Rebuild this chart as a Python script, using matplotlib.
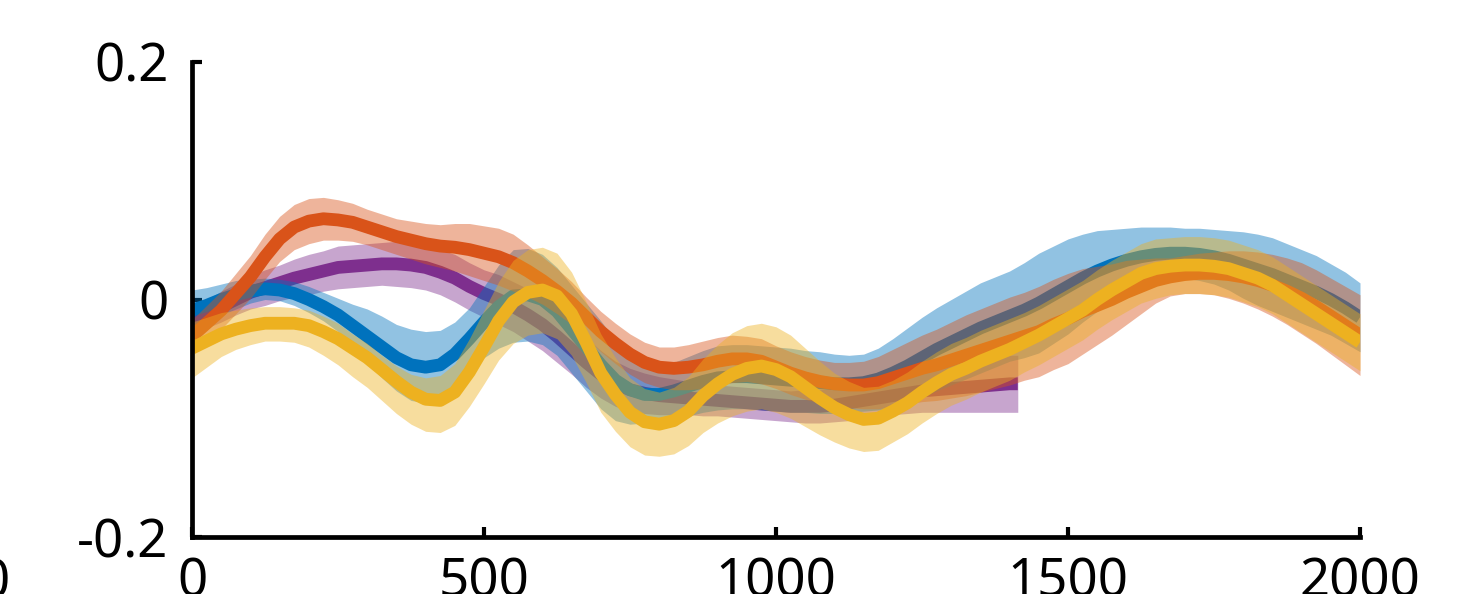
import matplotlib
matplotlib.use("Agg")
import matplotlib.pyplot as plt
import numpy as np

plt.rcParams['font.family'] = ['Noto Sans', 'DejaVu Sans']

t = list(range(0, 2001, 25))
t_purple = list(range(0, 1401, 25)) + [1414]

blue_mean = [-0.009, -0.005, 0.000, 0.004, 0.007, 0.009, 0.008, 0.005, 0.000, -0.006,
             -0.013, -0.022, -0.031, -0.040, -0.049, -0.055, -0.057, -0.055, -0.046, -0.033,
             -0.019, -0.006, 0.003, 0.004, 0.000, -0.010, -0.025, -0.040, -0.055, -0.068,
             -0.076, -0.080, -0.080, -0.077, -0.073, -0.069, -0.066, -0.065, -0.065, -0.066,
             -0.067, -0.068, -0.069, -0.070, -0.071, -0.071, -0.070, -0.067, -0.062, -0.056,
             -0.049, -0.042, -0.036, -0.030, -0.024, -0.019, -0.014, -0.009, -0.003, 0.004,
             0.011, 0.018, 0.024, 0.029, 0.033, 0.036, 0.038, 0.039, 0.039, 0.038,
             0.036, 0.033, 0.029, 0.025, 0.021, 0.016, 0.011, 0.006, 0.000, -0.007, -0.015]
blue_hw = [0.017, 0.015, 0.013, 0.012, 0.010, 0.009, 0.009, 0.010, 0.011, 0.012,
           0.014, 0.018, 0.023, 0.026, 0.028, 0.030, 0.030, 0.029, 0.027, 0.026,
           0.030, 0.035, 0.039, 0.039, 0.038, 0.037, 0.037, 0.037, 0.037, 0.034,
           0.029, 0.024, 0.022, 0.024, 0.025, 0.026, 0.027, 0.027, 0.027, 0.027,
           0.027, 0.027, 0.026, 0.026, 0.025, 0.024, 0.024, 0.026, 0.029, 0.032,
           0.034, 0.035, 0.036, 0.037, 0.038, 0.038, 0.038, 0.040, 0.042, 0.041,
           0.040, 0.037, 0.034, 0.030, 0.027, 0.025, 0.023, 0.022, 0.021, 0.022,
           0.023, 0.025, 0.028, 0.030, 0.031, 0.031, 0.031, 0.031, 0.030, 0.030, 0.029]

red_mean = [-0.031, -0.020, -0.009, 0.005, 0.019, 0.036, 0.051, 0.061, 0.066, 0.068,
            0.067, 0.065, 0.061, 0.057, 0.053, 0.050, 0.047, 0.045, 0.044, 0.042,
            0.039, 0.036, 0.031, 0.024, 0.016, 0.007, -0.003, -0.015, -0.027, -0.037,
            -0.046, -0.053, -0.057, -0.058, -0.057, -0.055, -0.052, -0.050, -0.050, -0.052,
            -0.057, -0.062, -0.066, -0.069, -0.071, -0.072, -0.072, -0.070, -0.066, -0.062,
            -0.058, -0.055, -0.051, -0.047, -0.043, -0.039, -0.035, -0.031, -0.027, -0.021,
            -0.016, -0.010, -0.005, 0.000, 0.006, 0.011, 0.016, 0.019, 0.021, 0.022,
            0.022, 0.021, 0.019, 0.016, 0.012, 0.007, 0.001, -0.006, -0.014, -0.022, -0.030]
red_hw = [0.014, 0.015, 0.016, 0.017, 0.018, 0.019, 0.019, 0.019, 0.019, 0.018,
          0.017, 0.016, 0.015, 0.015, 0.015, 0.016, 0.017, 0.018, 0.020, 0.022,
          0.023, 0.024, 0.024, 0.022, 0.020, 0.019, 0.018, 0.017, 0.017, 0.017,
          0.017, 0.017, 0.017, 0.018, 0.019, 0.020, 0.020, 0.020, 0.019, 0.019,
          0.018, 0.018, 0.018, 0.018, 0.018, 0.019, 0.020, 0.022, 0.024, 0.026,
          0.028, 0.030, 0.032, 0.034, 0.035, 0.036, 0.037, 0.037, 0.038, 0.038,
          0.038, 0.036, 0.033, 0.030, 0.027, 0.023, 0.019, 0.016, 0.016, 0.017,
          0.018, 0.020, 0.022, 0.024, 0.026, 0.028, 0.030, 0.031, 0.032, 0.033, 0.034]

purple_mean = [-0.017, -0.012, -0.006, 0.000, 0.006, 0.010, 0.014, 0.018, 0.021, 0.024,
               0.027, 0.028, 0.029, 0.030, 0.030, 0.029, 0.027, 0.023, 0.018, 0.011,
               0.005, 0.000, -0.006, -0.013, -0.021, -0.031, -0.042, -0.053, -0.063, -0.071,
               -0.076, -0.079, -0.081, -0.082, -0.083, -0.084, -0.085, -0.086, -0.087, -0.088,
               -0.089, -0.090, -0.090, -0.090, -0.089, -0.087, -0.085, -0.083, -0.081, -0.079,
               -0.077, -0.076, -0.075, -0.074, -0.073, -0.072, -0.071, -0.071]
purple_hw = [0.012, 0.012, 0.013, 0.013, 0.014, 0.015, 0.015, 0.016, 0.017, 0.017,
             0.018, 0.018, 0.018, 0.018, 0.019, 0.019, 0.019, 0.019, 0.020, 0.020,
             0.020, 0.021, 0.021, 0.022, 0.022, 0.022, 0.021, 0.021, 0.020, 0.019,
             0.018, 0.017, 0.016, 0.015, 0.014, 0.014, 0.013, 0.013, 0.013, 0.013,
             0.013, 0.013, 0.014, 0.014, 0.014, 0.015, 0.015, 0.016, 0.016, 0.017,
             0.018, 0.019, 0.020, 0.021, 0.022, 0.023, 0.024, 0.024]

yellow_mean = [-0.041, -0.035, -0.029, -0.025, -0.022, -0.020, -0.020, -0.020, -0.022, -0.027,
               -0.033, -0.041, -0.049, -0.059, -0.069, -0.078, -0.084, -0.085, -0.078, -0.061,
               -0.040, -0.018, -0.002, 0.006, 0.008, 0.003, -0.012, -0.036, -0.062, -0.080,
               -0.095, -0.103, -0.105, -0.102, -0.094, -0.081, -0.071, -0.063, -0.058, -0.056,
               -0.059, -0.065, -0.074, -0.083, -0.091, -0.097, -0.101, -0.100, -0.094, -0.087,
               -0.078, -0.070, -0.063, -0.058, -0.052, -0.047, -0.042, -0.036, -0.030, -0.023,
               -0.016, -0.009, 0.000, 0.008, 0.015, 0.022, 0.026, 0.028, 0.029, 0.029,
               0.028, 0.026, 0.022, 0.018, 0.012, 0.004, -0.004, -0.012, -0.020, -0.028, -0.036]
# the yellow band is not symmetric: separate upper and lower widths
yellow_up = [0.022, 0.020, 0.018, 0.016, 0.015, 0.014, 0.014, 0.013, 0.013, 0.013,
             0.013, 0.012, 0.012, 0.012, 0.013, 0.015, 0.018, 0.021, 0.024, 0.028,
             0.031, 0.033, 0.035, 0.036, 0.036, 0.036, 0.035, 0.034, 0.033, 0.031,
             0.029, 0.028, 0.027, 0.028, 0.029, 0.031, 0.033, 0.035, 0.036, 0.036,
             0.036, 0.035, 0.033, 0.031, 0.029, 0.028, 0.027, 0.027, 0.026, 0.026,
             0.026, 0.026, 0.026, 0.026, 0.026, 0.026, 0.026, 0.025, 0.025, 0.025,
             0.025, 0.025, 0.025, 0.025, 0.025, 0.025, 0.025, 0.024, 0.024, 0.024,
             0.024, 0.024, 0.024, 0.024, 0.024, 0.024, 0.024, 0.024, 0.024, 0.024, 0.024]
yellow_down = [0.025, 0.022, 0.019, 0.017, 0.016, 0.015, 0.015, 0.016, 0.018, 0.020,
               0.022, 0.024, 0.025, 0.026, 0.027, 0.027, 0.027, 0.027, 0.028, 0.029,
               0.031, 0.033, 0.035, 0.036, 0.036, 0.036, 0.035, 0.034, 0.033, 0.031,
               0.029, 0.028, 0.027, 0.028, 0.029, 0.031, 0.033, 0.035, 0.036, 0.036,
               0.036, 0.035, 0.033, 0.031, 0.029, 0.028, 0.027, 0.027, 0.026, 0.026,
               0.026, 0.026, 0.026, 0.026, 0.026, 0.026, 0.026, 0.025, 0.025, 0.025,
               0.025, 0.025, 0.025, 0.025, 0.025, 0.025, 0.025, 0.024, 0.024, 0.024,
               0.024, 0.024, 0.024, 0.024, 0.024, 0.024, 0.024, 0.024, 0.024, 0.024, 0.024]

x_ticks = [0, 500, 1000, 1500, 2000]
y_ticks = [-0.2, 0, 0.2]
y_ticklabels = ['-0.2', '0', '0.2']

series = [
    (t_purple, purple_mean, purple_hw, purple_hw, '#7E2F8E'),
    (t, blue_mean, blue_hw, blue_hw, '#0072BD'),
    (t, red_mean, red_hw, red_hw, '#D95319'),
    (t, yellow_mean, yellow_up, yellow_down, '#EDB120'),
]

W, H = 1481, 594
fig = plt.figure(figsize=(W / 100, H / 100), dpi=100)
ax = fig.add_axes([192 / W, (H - 537) / H, (1360 - 192) / W, (537 - 62) / H])

for i, (tt, m, up, dn, c) in enumerate(series):
    m = np.array(m); up = np.array(up); dn = np.array(dn)
    ax.fill_between(tt, m - dn, m + up, color=c, alpha=0.43, linewidth=0, zorder=2 + 2 * i)
    ax.plot(tt, m, color=c, linewidth=9.2, solid_capstyle='butt',
            solid_joinstyle='round', zorder=3 + 2 * i)

ax.set_xlim(0, 2000)
ax.set_ylim(-0.2, 0.2)
ax.set_xticks(x_ticks)
ax.set_xticklabels([str(v) for v in x_ticks])
ax.set_yticks(y_ticks)
ax.set_yticklabels(y_ticklabels)
for s in ['top', 'right']:
    ax.spines[s].set_visible(False)
for s in ['left', 'bottom']:
    ax.spines[s].set_linewidth(3.4)
    ax.spines[s].set_zorder(20)
ax.tick_params(direction='in', length=7, width=3.0, labelsize=38)
ax.tick_params(axis='y', pad=17)
ax.tick_params(axis='x', pad=14)

fig.text(-5 / W, (H - 558) / H, '0', fontsize=38, ha='center', va='top')

fig.savefig('out.png', dpi=100)
